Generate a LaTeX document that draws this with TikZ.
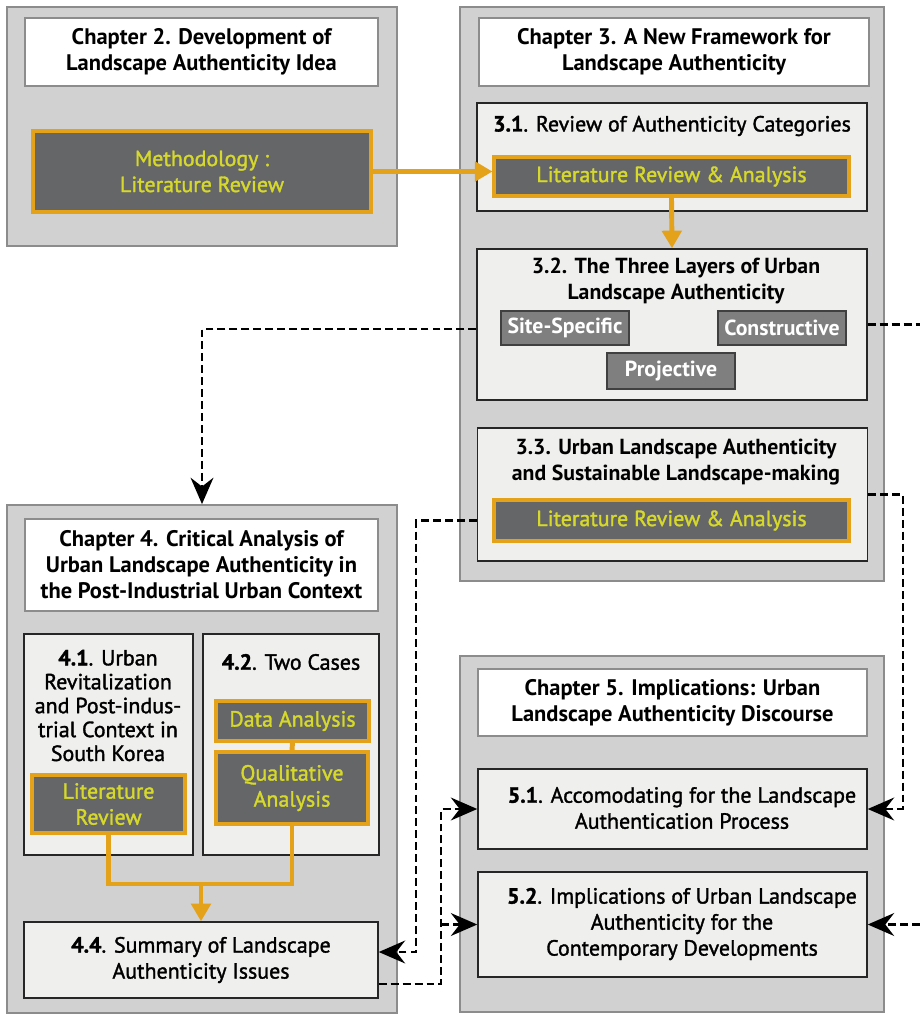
\documentclass[tikz,border=0pt]{standalone}
\usepackage{fontspec}
\setmainfont{PT Sans}
\newfontfamily\bodyfont{PT Sans}[FakeBold=1.5]
\usetikzlibrary{positioning, arrows.meta, calc}
\definecolor{panelgray}{HTML}{D0D1D0}
\definecolor{panelline}{HTML}{8C8C8C}
\definecolor{subfill}{HTML}{EFEFED}
\definecolor{darkbox}{HTML}{656667}
\definecolor{orng}{HTML}{E3A21A}
\definecolor{yel}{HTML}{D6D92B}
\definecolor{midgray}{HTML}{7F7F7F}

\begin{document}
\begin{tikzpicture}[x=0.02cm, y=-0.02cm, font=\bodyfont\fontsize{12.5}{14.8}\selectfont,
	chapter/.style={draw=panelline, line width=1.1pt, fill=panelgray, inner sep=0pt},
	chtitle/.style={draw=panelline, line width=1pt, fill=white, inner sep=0pt, align=center, font=\rmfamily\fontsize{12.8}{14.8}\selectfont\bfseries},
	sub/.style={draw=black!85, line width=0.9pt, fill=subfill, inner sep=0pt, align=center},
	method/.style={draw=orng, line width=1.8pt, fill=darkbox, text=yel, inner sep=0pt, align=center},
	layer/.style={draw=black!75, line width=0.9pt, fill=midgray, text=white, inner sep=0pt, minimum width=2.56cm, font=\rmfamily\fontsize{12.4}{14.8}\selectfont\bfseries},
	flow/.style={draw=orng, line width=2.8pt},
	flowarrow/.style={flow, -{Triangle[length=10pt, width=11pt]}},
	link/.style={line width=1.4pt, dash pattern=on 4.5pt off 2.3pt},
	linkarrow/.style={link, -{Stealth[length=15pt, width=13pt, inset=5pt]}}]
	\path[use as bounding box, fill=white] (0,0) rectangle (920,1015);
	% chapter 2
	\node[chapter, minimum width=7.8cm, minimum height=4.78cm] (ch2) at (202,126.5) {};
	\node[chtitle, minimum width=7.06cm, minimum height=1.36cm] (ch2t) at (201.5,52) {Chapter 2. Development of\\Landscape Authenticity Idea};
	\node[method, minimum width=6.76cm, minimum height=1.62cm] (meth) at (202,171.5) {Methodology :\\Literature Review};
	% chapter 3
	\node[chapter, minimum width=8.48cm, minimum height=11.48cm] (ch3) at (672,294) {};
	\node[chtitle, minimum width=7.8cm, minimum height=1.36cm] (ch3t) at (674,52) {Chapter 3. A New Framework for\\Landscape Authenticity};
	\node[sub, minimum width=7.8cm, minimum height=2.16cm] (s31) at (672,157) {};
	\node (s31t) at (672,126) {\textbf{3.1}. Review of Authenticity Categories};
	\node[method, minimum width=7.1cm, minimum height=0.78cm] (lra1) at (671.5,176.5) {Literature Review \& Analysis};
	\node[sub, minimum width=7.8cm, minimum height=3.02cm] (s32) at (672,324.5) {};
	\node[align=center, font=\rmfamily\fontsize{12.4}{14.8}\selectfont\bfseries] (s32t) at (676,280.5) {3.2. The Three Layers of Urban\\Landscape Authenticity};
	\node[layer, minimum height=0.68cm] (site) at (565,328) {Site-Specific};
	\node[layer, minimum height=0.68cm] (cons) at (782,328) {Constructive};
	\node[layer, minimum height=0.72cm] (proj) at (671,371) {Projective};
	\node[sub, minimum width=7.8cm, minimum height=2.66cm] (s33) at (672.5,494.5) {};
	\node[align=center, font=\rmfamily\fontsize{12.4}{14.8}\selectfont\bfseries] (s33t) at (676,462.5) {3.3. Urban Landscape Authenticity\\and Sustainable Landscape-making};
	\node[method, minimum width=7.1cm, minimum height=0.82cm] (lra2) at (671.5,520.5) {Literature Review \& Analysis};
	% chapter 4
	\node[chapter, minimum width=7.8cm, minimum height=10.16cm] (ch4) at (202,759) {};
	\node[chtitle, minimum width=7.06cm, minimum height=1.84cm] (ch4t) at (201.5,565) {Chapter 4. Critical Analysis of\\Urban Landscape Authenticity in\\the Post-Industrial Urban Context};
	\node[sub, minimum width=3.38cm, minimum height=4.42cm] (s41) at (108.5,744.5) {};
	\node[align=center, font=\bodyfont\fontsize{12.5}{13.6}\selectfont] (s41t) at (108,705.5) {\textbf{4.1}. Urban\\Revitalization\\and Post-indus-\\trial Context in\\South Korea};
	\node[method, minimum width=3.06cm, minimum height=1.16cm] (lr) at (108.5,804) {Literature\\Review};
	\node[sub, minimum width=3.52cm, minimum height=4.42cm] (s42) at (291,744.5) {};
	\node (s42t) at (291,662) {\textbf{4.2}. Two Cases};
	\node[method, minimum width=3.06cm, minimum height=0.8cm] (data) at (292.5,721) {Data Analysis};
	\node[method, minimum width=3.04cm, minimum height=1.44cm] (qual) at (292,788) {Qualitative\\Analysis};
	\node[sub, minimum width=7.08cm, minimum height=1.52cm] (s44) at (201,960) {\textbf{4.4}. Summary of Landscape\\Authenticity Issues};
	% chapter 5
	\node[chapter, minimum width=8.48cm, minimum height=7.12cm] (ch5) at (672,834) {};
	\node[chtitle, minimum width=7.78cm, minimum height=1.34cm] (ch5t) at (672.5,702.5) {Chapter 5. Implications: Urban\\Landscape Authenticity Discourse};
	\node[sub, minimum width=7.78cm, minimum height=1.6cm] (s51) at (672.5,809) {};
	\node[align=center] (s51t) at (682,808) {\textbf{5.1}. Accomodating for the Landscape\\Authentication Process};
	\node[sub, minimum width=7.78cm, minimum height=2.1cm] (s52) at (672.5,924.5) {};
	\node[align=center] (s52t) at (682,924) {\textbf{5.2}. Implications of Urban Landscape\\Authenticity for the\\Contemporary Developments};
	% orange flow
	\draw[flowarrow] (meth.east) -- (meth.east -| lra1.west);
	\draw[flowarrow] (lra1.south) -- (s32.north);
	\draw[flow] (data.south) -- (qual.north);
	\coordinate (merge) at (201,884);
	\draw[flow] (lr.south) |- (merge) -| (qual.south);
	\draw[flowarrow] (merge) -- (s44.north);
	% dashed links
	\coordinate (exitR) at (920,324.5);
	\coordinate (enterR) at (920,924.5);
	\draw[linkarrow] ([yshift=-0.09cm]s32.west) -| (ch4.north);
	\draw[link] (s32.east) -- (exitR);
	\draw[linkarrow] (enterR) -- (s52.east);
	\draw[linkarrow] (s33.east) -| ([xshift=0.7cm]s51.east) -- (s51.east);
	\draw[linkarrow] (s33.west |- lra2.west) -| ([xshift=0.75cm, yshift=0.16cm]s44.east) -- ([yshift=0.16cm]s44.east);
	\draw[linkarrow] ([yshift=-0.48cm]s44.east) -| ([xshift=-0.72cm]s51.west) -- (s51.west);
	\draw[linkarrow] ([xshift=-0.72cm]s52.west) -- (s52.west);
\end{tikzpicture}
\end{document}
